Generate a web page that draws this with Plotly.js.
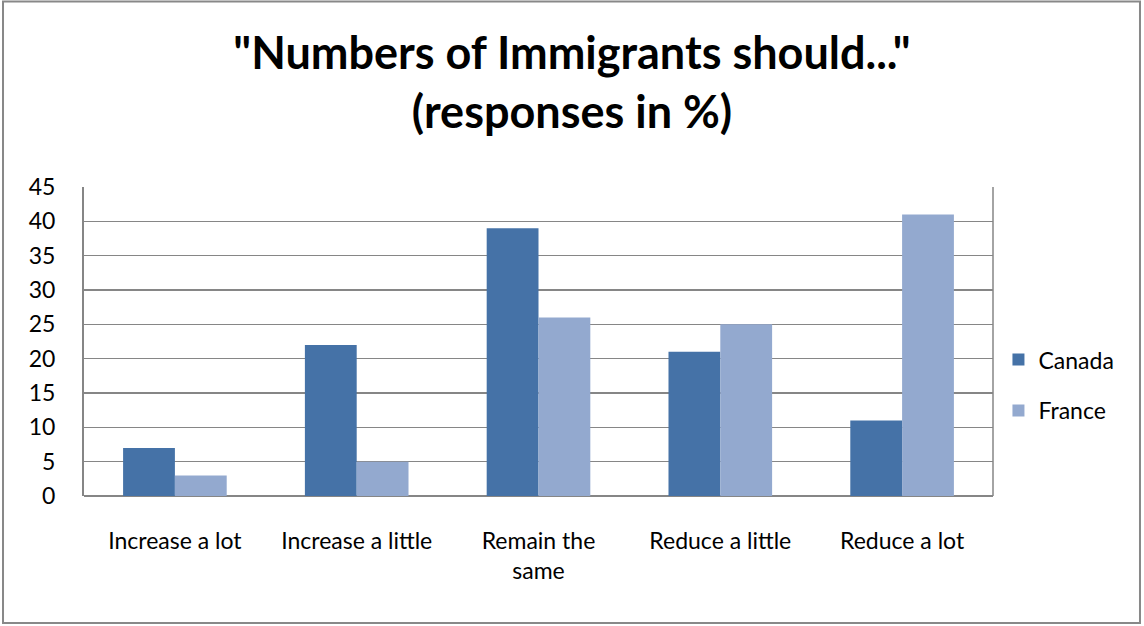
<!DOCTYPE html>
<html>
<head>
<meta charset="utf-8">
<script src="https://cdn.plot.ly/plotly-3.0.1.min.js"></script>
<style>html,body{margin:0;padding:0;background:#fff;}#chart{width:1144px;height:626px;}</style>
</head>
<body>
<div id="chart"></div>
<script>
var categories = ["Increase a lot", "Increase a little", "Remain the<br>same", "Reduce a little", "Reduce a lot"];
var canada = [7, 22, 39, 21, 11];
var france = [3, 5, 26, 25, 41];
var yTicks = [0, 5, 10, 15, 20, 25, 30, 35, 40, 45];

var font = "Lato, 'Open Sans', sans-serif";
var traces = [
  {type: "bar", name: "Canada", x: categories, y: canada, marker: {color: "#4572A7"}, legendgroup: "a", hoverinfo: "y"},
  {type: "bar", name: "France", x: categories, y: france, marker: {color: "#93A9CF"}, legendgroup: "b", hoverinfo: "y"}
];
var layout = {
  width: 1144, height: 626,
  margin: {l: 84, r: 151, t: 187, b: 130},
  paper_bgcolor: "#ffffff", plot_bgcolor: "#ffffff",
  font: {family: font, size: 23, color: "#000"},
  title: {text: "<b>\"Numbers of Immigrants should...\"<br>(responses in %)</b>", font: {family: font, size: 45, color: "#000"}, x: 0.5, xanchor: "center", y: 0.889, yanchor: "top"},
  barmode: "group", bargap: 0.43, bargroupgap: 0,
  xaxis: {type: "category", showgrid: false, showline: false, ticks: "", tickfont: {size: 23}, ticklabelstandoff: 29, fixedrange: true},
  yaxis: {range: [0, 45], tickvals: yTicks, ticktext: yTicks.map(String), showgrid: true, gridcolor: "#868686", gridwidth: 1.5, showline: true, linecolor: "#868686", linewidth: 2, zeroline: true, zerolinecolor: "#868686", zerolinewidth: 2, ticks: "", ticklabelstandoff: 22, tickfont: {size: 23}, fixedrange: true},
  legend: {x: 1.006, xanchor: "left", y: 0.359, yanchor: "middle", traceorder: "grouped", tracegroupgap: 18, font: {size: 23}, itemwidth: 30},
  shapes: [
    {type: "line", xref: "paper", yref: "paper", x0: 1, x1: 1, y0: 0, y1: 1, line: {color: "#868686", width: 1.5}},
    {type: "rect", xref: "paper", yref: "paper", x0: -0.0891, x1: 1.1617, y0: -0.411, y1: 1.6, line: {color: "#888888", width: 2}}
  ]
};
Plotly.newPlot("chart", traces, layout, {displayModeBar: false, staticPlot: true});
</script>
</body>
</html>
